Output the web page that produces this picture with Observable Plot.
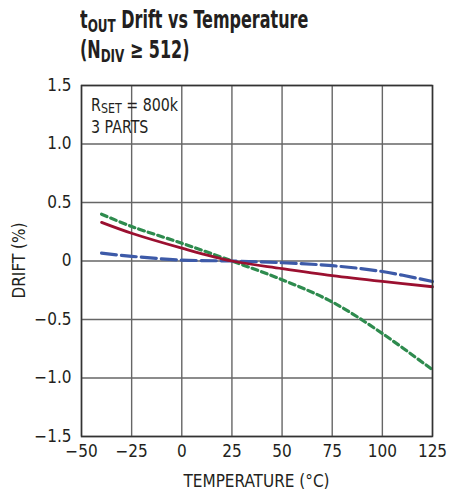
<!DOCTYPE html>
<html>
<head>
<meta charset="utf-8">
<script src="https://cdn.jsdelivr.net/npm/d3@7"></script>
<script src="https://cdn.jsdelivr.net/npm/@observablehq/plot@0.6"></script>
<style>
  body { margin: 0; background: #fff; }
  #wrap { position: relative; width: 458px; height: 495px; font-family: "DejaVu Sans Condensed", "Liberation Sans Narrow", sans-serif; }
  #title { position: absolute; left: 80px; top: 5px; font-weight: bold; font-size: 24px; line-height: 30px; color: #231f20; transform: scaleX(0.74); transform-origin: 0 0; white-space: nowrap; }
  #title sub { font-size: 18px; vertical-align: -4px; line-height: 0; }
  #chart { position: absolute; left: 0; top: 0; }
</style>
</head>
<body>
<div id="wrap">
  <div id="chart"></div>
  <div id="title">t<sub>OUT</sub> Drift vs Temperature<br>(N<sub>DIV</sub> ≥ 512)</div>
</div>
<script>
const temps = [-40, -25, 0, 25, 50, 75, 100, 125];
const redDrift = [0.33, 0.237, 0.11, 0.0, -0.065, -0.125, -0.175, -0.22];
const blueDrift = [0.067, 0.04, 0.008, 0.0, -0.015, -0.04, -0.09, -0.175];
const greenDrift = [0.40, 0.295, 0.152, 0.0, -0.16, -0.35, -0.62, -0.93];
const xTicks = [-50, -25, 0, 25, 50, 75, 100, 125];
const yTicks = [-1.5, -1.0, -0.5, 0, 0.5, 1.0, 1.5];

const mk = arr => temps.map((t, i) => ({t, v: arr[i]}));
const font = '"DejaVu Sans Condensed", "Liberation Sans Narrow", sans-serif';

const plot = Plot.plot({
  width: 458,
  height: 495,
  marginTop: 85,
  marginBottom: 59,
  marginLeft: 81,
  marginRight: 26,
  style: {fontFamily: font, fontSize: "17px", color: "#231f20", background: "transparent"},
  x: {domain: [-50, 125]},
  y: {domain: [-1.5, 1.5]},
  marks: [
    Plot.gridX(xTicks, {stroke: "#666", strokeOpacity: 1, strokeWidth: 1.4}),
    Plot.gridY(yTicks, {stroke: "#666", strokeOpacity: 1, strokeWidth: 1.4}),
    Plot.axisX(xTicks, {tickSize: 0, tickPadding: 8, label: null, fontSize: 17, tickFormat: d => d3.format("d")(d).replace("-", "\u2212")}),
    Plot.axisY(yTicks, {tickSize: 0, tickPadding: 10, label: null, fontSize: 17, tickFormat: d => (d === 0 ? "0" : d3.format(".1f")(d).replace("-", "\u2212"))}),
    Plot.line(mk(greenDrift), {x: "t", y: "v", stroke: "#2e8b4e", strokeWidth: 3.2, strokeDasharray: "6,4", curve: "catmull-rom"}),
    Plot.line(mk(blueDrift), {x: "t", y: "v", stroke: "#3d5aa8", strokeWidth: 3.2, strokeDasharray: "15,5", curve: "catmull-rom"}),
    Plot.line(mk(redDrift), {x: "t", y: "v", stroke: "#9b1030", strokeWidth: 2.8, curve: "catmull-rom"}),
    Plot.frame({stroke: "#333", strokeWidth: 1.5})
  ]
});
document.getElementById("chart").appendChild(plot);

const svg = d3.select(plot);
const xs = plot.scale("x"), ys = plot.scale("y");
// Axis titles
svg.append("text").attr("x", (xs.apply(-50) + xs.apply(125)) / 2).attr("y", 487)
  .attr("text-anchor", "middle").attr("font-size", 17).attr("fill", "#231f20").attr("font-family", font)
  .text("TEMPERATURE (°C)");
svg.append("text").attr("transform", `translate(25,${ys.apply(0)}) rotate(-90)`)
  .attr("text-anchor", "middle").attr("font-size", 17).attr("fill", "#231f20").attr("font-family", font)
  .text("DRIFT (%)");
// Annotation
const ax = xs.apply(-45), ay = ys.apply(1.5);
const ann = svg.append("text").attr("transform", `translate(${ax},${ay + 26}) scale(0.88,1)`)
  .attr("text-anchor", "start").attr("font-size", 18).attr("fill", "#231f20").attr("font-family", font);
ann.append("tspan").text("R");
ann.append("tspan").attr("font-size", 14).attr("dy", 2).text("SET");
ann.append("tspan").attr("dy", -2).text(" = 800k");
svg.append("text").attr("transform", `translate(${ax},${ay + 48}) scale(0.88,1)`)
  .attr("text-anchor", "start").attr("font-size", 18).attr("fill", "#231f20").attr("font-family", font).text("3 PARTS");
</script>
</body>
</html>
